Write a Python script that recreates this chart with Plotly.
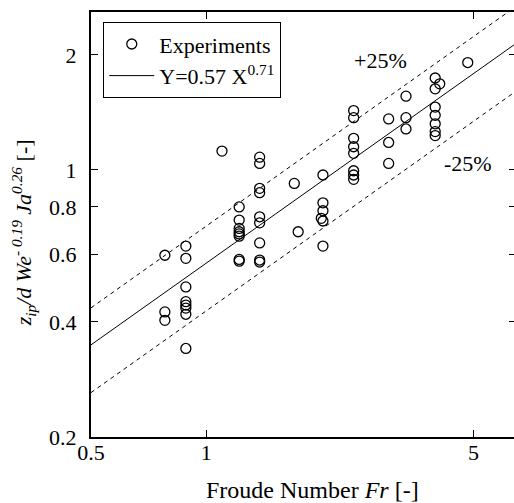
import numpy as np
import plotly.graph_objects as go

# Experimental data (Froude number, dimensionless height)
fr = [0.78, 0.78, 0.78,
      0.885, 0.885, 0.885, 0.885, 0.885, 0.885, 0.885, 0.885,
      1.10,
      1.22, 1.22, 1.22, 1.22, 1.22, 1.22, 1.22, 1.22,
      1.38, 1.38, 1.38, 1.38, 1.38, 1.38, 1.38, 1.38, 1.38,
      1.70, 1.74,
      2.02, 2.02, 2.02, 2.00, 2.02, 2.02,
      2.43, 2.43, 2.43, 2.43, 2.43, 2.43, 2.43, 2.43,
      3.00, 3.00, 3.00,
      3.33, 3.33, 3.33,
      3.97, 4.08, 3.97, 3.97, 3.97, 3.97, 3.97, 3.97,
      4.83]
yv = [0.598, 0.425, 0.404,
      0.632, 0.587, 0.494, 0.452, 0.443, 0.435, 0.419, 0.341,
      1.12,
      0.80, 0.739, 0.703, 0.689, 0.68, 0.671, 0.583, 0.577,
      1.08, 1.04, 0.895, 0.872, 0.754, 0.727, 0.644, 0.581, 0.574,
      0.922, 0.689,
      0.97, 0.82, 0.782, 0.747, 0.735, 0.632,
      1.43, 1.37, 1.21, 1.15, 1.105, 0.995, 0.97, 0.945,
      1.36, 1.18, 1.04,
      1.56, 1.37, 1.28,
      1.74, 1.68, 1.63, 1.46, 1.39, 1.32, 1.26, 1.23,
      1.91]

# Correlation Y = 0.57 X^0.71 with +/-25% bands
coef, expo = 0.57, 0.71
fit_x = np.array([0.5, 6.38])
fit_y = coef * fit_x ** expo

x_range = [0.5, 6.38]
y_range = [0.2, 2.59]
x_ticks = [0.5, 1, 5]
y_ticks = [0.2, 0.4, 0.6, 0.8, 1, 2]
y_ticktext = ["0.2", "0.4", "0.6", "0.8", "1", "2"]

FONT = "Times New Roman, Liberation Serif, serif"

fig = go.Figure()
fig.add_trace(go.Scatter(x=fr, y=yv, mode="markers", name="Experiments",
                         marker=dict(symbol="circle-open", size=10, color="black",
                                     line=dict(width=1.3, color="black"))))
fig.add_trace(go.Scatter(x=fit_x, y=fit_y, mode="lines",
                         name="Y=0.57 X<sup>0.71</sup>",
                         line=dict(color="black", width=1)))
fig.add_trace(go.Scatter(x=fit_x, y=fit_y * 1.25, mode="lines", showlegend=False,
                         line=dict(color="black", width=1, dash="4px,4px")))
fig.add_trace(go.Scatter(x=fit_x, y=fit_y * 0.75, mode="lines", showlegend=False,
                         line=dict(color="black", width=1, dash="4px,4px")))
fig.add_trace(go.Scatter(x=[], y=[], yaxis="y2", showlegend=False, mode="markers"))

fig.update_layout(
    width=514, height=503,
    margin=dict(l=91, r=0, t=12, b=66),
    paper_bgcolor="white", plot_bgcolor="white",
    font=dict(family=FONT, size=22, color="black"),
    showlegend=True,
    legend=dict(x=0.029, y=0.976, xanchor="left", yanchor="top",
                bordercolor="black", borderwidth=1, bgcolor="white",
                itemwidth=45,
                font=dict(family=FONT, size=22), tracegroupgap=0),
    xaxis=dict(type="log", range=[np.log10(x_range[0]), np.log10(x_range[1])],
               tickvals=x_ticks, ticktext=["0.5", "1", "5"],
               ticks="inside", ticklen=7, tickwidth=1, tickcolor="black",
               showline=True, linewidth=2, linecolor="black", mirror="ticks",
               showgrid=False, zeroline=False, ticklabelstandoff=-5,
               tickfont=dict(family=FONT, size=22)),
    yaxis=dict(type="log", range=[np.log10(y_range[0]), np.log10(y_range[1])],
               tickvals=y_ticks, ticktext=y_ticktext,
               ticks="inside", ticklen=7, tickwidth=1, tickcolor="black",
               showline=True, linewidth=2, linecolor="black", mirror=False,
               showgrid=False, zeroline=False, ticklabelstandoff=8,
               tickfont=dict(family=FONT, size=22)),
    yaxis2=dict(type="log", range=[np.log10(y_range[0]), np.log10(y_range[1])],
                overlaying="y", side="right", tickvals=y_ticks,
                ticks="inside", ticklen=5, tickwidth=1, tickcolor="black",
                showticklabels=False, showline=False, showgrid=False, zeroline=False),
    annotations=[
        dict(text="+25%", x=(380 - 91) / 423, y=(436.7 - 60) / 425, xref="paper", yref="paper",
             xanchor="center", yanchor="middle",
             showarrow=False, font=dict(family=FONT, size=22)),
        dict(text="-25%", x=(468 - 91) / 423, y=(436.7 - 163) / 425, xref="paper", yref="paper",
             xanchor="center", yanchor="middle",
             showarrow=False, font=dict(family=FONT, size=22)),
        dict(text="Froude Number <i>Fr</i> [-]", x=(312.5 - 91) / 423, y=(436.7 - 490) / 425,
             xref="paper", yref="paper", xanchor="center", yanchor="middle",
             showarrow=False, font=dict(family=FONT, size=24)),
        dict(text="<i>z</i><sub><i>ip</i></sub><i>/d We</i><sup><i>- 0.19</i></sup><i> Ja</i><sup><i>0.26</i></sup> [-]",
             x=(23 - 91) / 423, y=(436.7 - 233) / 425, xref="paper", yref="paper",
             xanchor="center", yanchor="middle", textangle=-90,
             showarrow=False, font=dict(family=FONT, size=22)),
    ],
)

fig.write_html("out.html")
